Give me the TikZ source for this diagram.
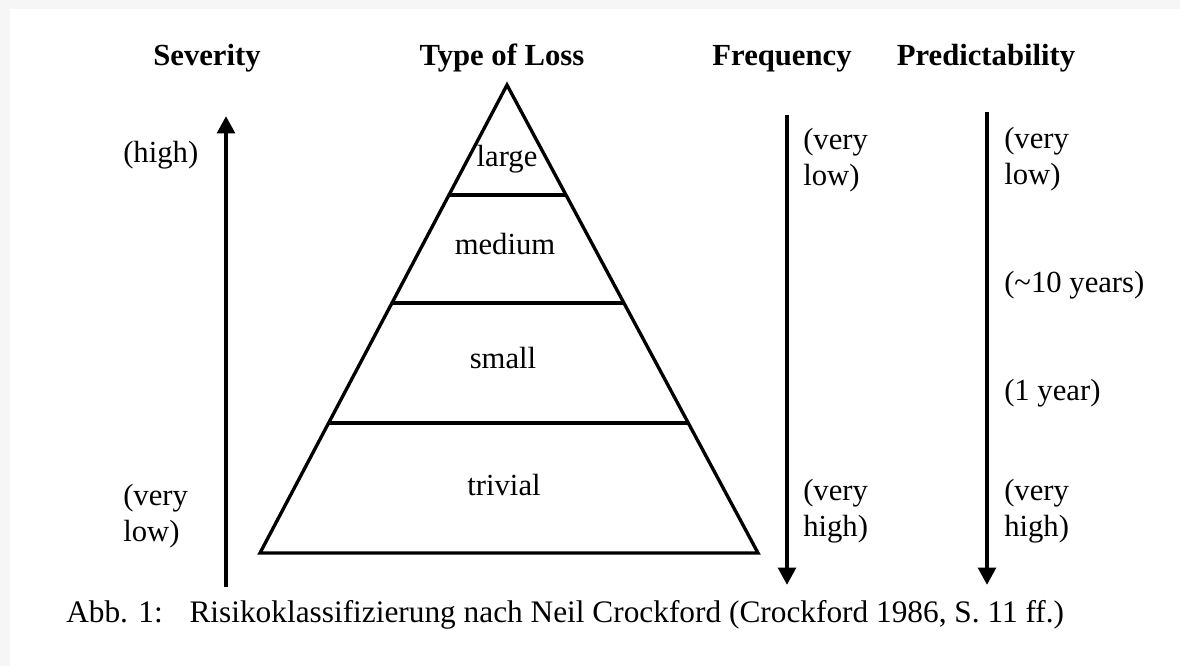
\documentclass[tikz,border=0pt]{standalone}
\usepackage{fontspec}
\setmainfont{Liberation Serif}
\usetikzlibrary{arrows.meta,calc}

\tikzset{
  head/.style={font=\fontsize{23}{27}\selectfont\bfseries, anchor=base, inner sep=0pt},
  lbl/.style={font=\fontsize{23}{27}\selectfont, anchor=base west, align=left, inner sep=0pt},
  layer/.style={font=\fontsize{23}{27}\selectfont, anchor=base, inner sep=0pt},
  scale arrow/.style={line width=3.4pt, -{Triangle[length=13pt,width=13pt]}},
  pyr/.style={line width=2.5pt, line join=miter}
}

\begin{document}
\begin{tikzpicture}[x=0.75pt,y=0.75pt,yscale=-1,xscale=1]
  \useasboundingbox (0,0) rectangle (1180,666);
  %faint scan border
  \fill[gray!7] (0,0) rectangle (1180,666);
  \fill[white] (10,9) rectangle (1180,666);

  %Headers
  \node[head] (sev) at (207,66) {Severity};
  \node[head] (type) at (502,66) {Type of Loss};
  \node[head] (freq) at (782,66) {Frequency};
  \node[head] (pred) at (986,66) {Predictability};

  %Shape: Triangle
  \coordinate (apex) at (507,85);
  \coordinate (baseL) at (260,553);
  \coordinate (baseR) at (758,553);
  \draw[pyr] (apex) -- (baseR) -- (baseL) -- cycle;
  %Straight Lines (layer borders)
  \draw[pyr] ($(apex)!0.235!(baseL)$) -- ($(apex)!0.235!(baseR)$);
  \draw[pyr] ($(apex)!0.466!(baseL)$) -- ($(apex)!0.466!(baseR)$);
  \draw[pyr] ($(apex)!0.722!(baseL)$) -- ($(apex)!0.722!(baseR)$);

  %Layer labels
  \node[layer] (large) at (507,167) {large};
  \node[layer] (medium) at (505,255) {medium};
  \node[layer] (small) at (503,368) {small};
  \node[layer] (trivial) at (504,495) {trivial};

  %Straight Lines [arrows]
  \coordinate (sevA) at (226,587);
  \coordinate (sevB) at (226,116);
  \draw[scale arrow] (sevA) -- (sevB);
  \coordinate (freqA) at (787,115);
  \coordinate (freqB) at (787,585);
  \draw[scale arrow] (freqA) -- (freqB);
  \coordinate (predA) at (987,112);
  \coordinate (predB) at (987,585);
  \draw[scale arrow] (predA) -- (predB);

  %Severity labels (base = last line)
  \node[lbl] (sevhigh) at (123,163) {(high)};
  \node[lbl] (sevlow) at (123,541) {(very\\low)};

  %Frequency labels
  \node[lbl] (freqlow) at (803,186) {(very\\low)};
  \node[lbl] (freqhigh) at (803,536) {(very\\high)};

  %Predictability labels
  \node[lbl] (predlow) at (1004,185) {(very\\low)};
  \node[lbl] (predten) at (1004,292) {(\textasciitilde 10 years)};
  \node[lbl] (predone) at (1004,400) {(1 year)};
  \node[lbl] (predhigh) at (1004,536) {(very\\high)};

  %Caption
  \node[lbl, font=\fontsize{23.5}{27}\selectfont] (caption) at (66,622) {Abb. 1:\hspace{20pt}Risikoklassifizierung nach Neil Crockford (Crockford 1986, S. 11 ff.)};

\end{tikzpicture}
\end{document}
